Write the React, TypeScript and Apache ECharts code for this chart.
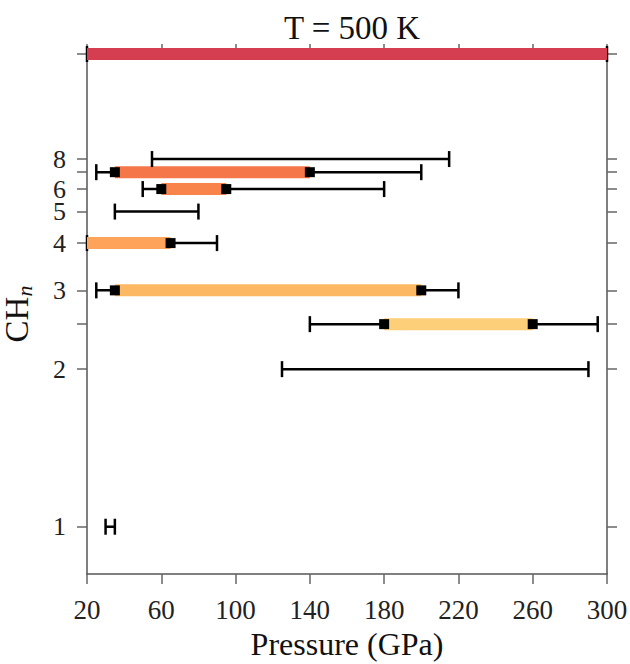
import React, { useEffect, useRef } from "react";
import * as echarts from "echarts";

// Hydrogen content n of each CH_n species (Infinity = pure hydrogen, H2)
const speciesN = [1, 2, 2.5, 3, 4, 5, 6, 7, 8, Infinity];
// Stability ranges (GPa): thin black whiskers
const rangeLow = [30, 125, 140, 25, 20, 35, 50, 25, 55, 20];
const rangeHigh = [35, 290, 295, 220, 90, 80, 180, 200, 215, 300];
// Thick coloured bars (null = no bar)
const barLow = [null, null, 180, 35, 20, null, 60, 35, null, 20];
const barHigh = [null, null, 260, 200, 65, null, 95, 140, null, 300];
const barColors = ["", "", "#fecf79", "#fdb863", "#fda35a", "", "#f8834b", "#f57649", "", "#d53e50"];

const xTicks = [20, 60, 100, 140, 180, 220, 260, 300];
const yTickN = [1, 2, 2.5, 3, 4, 5, 6, 7, 8, Infinity];
const yLabelN = [1, 2, 3, 4, 5, 6, 8];

const X_MIN = 20;
const X_MAX = 300;

const frac = (n: number) => (n === Infinity ? 1 : n / (n + 1));

export default function App() {
  const ref = useRef<HTMLDivElement>(null);
  useEffect(() => {
    if (!ref.current) return;
    const chart = echarts.init(ref.current, undefined, { renderer: "svg" });
    const font = "Liberation Serif";
    const data = speciesN.map((n, i) => [
      frac(n),
      rangeLow[i],
      rangeHigh[i],
      barLow[i] == null ? "-" : barLow[i],
      barHigh[i] == null ? "-" : barHigh[i],
    ]);
    const axisLineStyle = { color: "#555", width: 1.5 };
    const tickStyle = { color: "#666", width: 1.5 };
    chart.setOption({
      animation: false,
      backgroundColor: "#fff",
      title: {
        text: "T = 500 K",
        left: 347,
        textAlign: "center",
        top: 6,
        textStyle: { fontFamily: font, fontSize: 33, fontWeight: "normal", color: "#111" },
      },
      grid: { left: 87, right: 23, top: 54, bottom: 90, outerBoundsMode: "none", containLabel: false },
      xAxis: [
        {
          type: "value",
          min: X_MIN,
          max: X_MAX,
          position: "bottom",
          name: "Pressure (GPa)",
          nameLocation: "middle",
          nameGap: 55,
          nameTextStyle: { fontFamily: font, fontSize: 32, color: "#111", lineHeight: 30 },
          axisLine: { show: true, onZero: false, lineStyle: axisLineStyle },
          axisTick: { show: true, inside: false, length: 10, customValues: xTicks, lineStyle: tickStyle },
          axisLabel: {
            customValues: xTicks,
            margin: 22,
            fontFamily: font,
            fontSize: 27,
            color: "#222",
          },
          splitLine: { show: false },
        },
        {
          type: "value",
          min: X_MIN,
          max: X_MAX,
          position: "top",
          axisLine: { show: true, onZero: false, lineStyle: axisLineStyle },
          axisTick: { show: true, inside: false, length: 10, customValues: xTicks, lineStyle: tickStyle },
          axisLabel: { show: false },
          splitLine: { show: false },
        },
      ],
      yAxis: [
        {
          type: "value",
          min: 0.45,
          max: 1.0,
          position: "left",
          name: "{a|CH}{b|n}",
          nameLocation: "middle",
          nameRotate: 90,
          nameGap: 52,
          nameTextStyle: {
            rich: {
              a: { fontFamily: font, fontSize: 33, color: "#111" },
              b: { fontFamily: font, fontSize: 22, fontStyle: "italic", color: "#111", padding: [14, 0, 0, 0] },
            },
          },
          axisLine: { show: true, onZero: false, lineStyle: axisLineStyle },
          axisTick: { show: true, inside: false, length: 10, customValues: yTickN.map(frac), lineStyle: tickStyle },
          axisLabel: {
            customValues: yLabelN.map(frac),
            margin: 21,
            fontFamily: font,
            fontSize: 26,
            lineHeight: 20,
            color: "#222",
            formatter: (v: number) => String(Math.round((v / (1 - v)) * 2) / 2),
          },
          splitLine: { show: false },
        },
        {
          type: "value",
          min: 0.45,
          max: 1.0,
          position: "right",
          axisLine: { show: true, onZero: false, lineStyle: axisLineStyle },
          axisTick: { show: true, inside: false, length: 10, customValues: yTickN.map(frac), lineStyle: tickStyle },
          axisLabel: { show: false },
          splitLine: { show: false },
        },
      ],
      series: [
        {
          type: "custom",
          xAxisIndex: 0,
          yAxisIndex: 0,
          clip: false,
          encode: { x: [1, 2], y: 0 },
          data,
          renderItem: (params: any, api: any) => {
            const i = params.dataIndex;
            const y = api.value(0);
            const wl = api.value(1);
            const wh = api.value(2);
            const bl = api.value(3);
            const bh = api.value(4);
            const pL = api.coord([wl, y]);
            const pH = api.coord([wh, y]);
            const lineStyle = { stroke: "#000", lineWidth: 2.5 };
            const children: any[] = [];
            children.push({ type: "line", shape: { x1: pL[0], y1: pL[1], x2: pH[0], y2: pH[1] }, style: lineStyle });
            children.push({ type: "line", shape: { x1: pL[0], y1: pL[1] - 8, x2: pL[0], y2: pL[1] + 8 }, style: lineStyle });
            children.push({ type: "line", shape: { x1: pH[0], y1: pH[1] - 8, x2: pH[0], y2: pH[1] + 8 }, style: lineStyle });
            if (!isNaN(bl) && !isNaN(bh)) {
              const bL = api.coord([bl, y]);
              const bH = api.coord([bh, y]);
              children.push({
                type: "rect",
                shape: { x: bL[0], y: bL[1] - 6, width: bH[0] - bL[0], height: 12 },
                style: { fill: barColors[i] },
              });
              if (bl > X_MIN) {
                children.push({ type: "rect", shape: { x: bL[0] - 5, y: bL[1] - 5, width: 10, height: 10 }, style: { fill: "#000" } });
              }
              if (bh < X_MAX) {
                children.push({ type: "rect", shape: { x: bH[0] - 5, y: bH[1] - 5, width: 10, height: 10 }, style: { fill: "#000" } });
              }
            }
            return { type: "group", children };
          },
        },
      ],
    });
    return () => chart.dispose();
  }, []);
  return <div ref={ref} style={{ width: 630, height: 664, position: "absolute", left: 0, top: 0 }} />;
}
